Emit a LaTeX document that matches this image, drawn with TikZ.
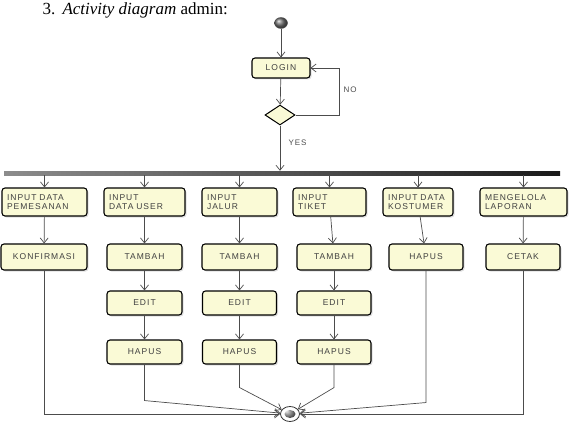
\documentclass[tikz,border=0pt]{standalone}
\usepackage{fontspec}
\setmainfont{Liberation Serif}
\newfontfamily\boxfont[LetterSpace=12]{Liberation Sans}
\usepackage{tikz}
\usetikzlibrary{shapes.geometric}
\usetikzlibrary{arrows.meta, shadows}
\definecolor{boxyellow}{RGB}{250,250,214}

\begin{document}
\begin{tikzpicture}[x=1pt, y=-1pt,
	box/.style={draw, line width=1.1pt, rounded corners=3pt, fill=boxyellow, text=black!75,
		font=\boxfont\fontsize{8.5}{9.5}\selectfont, inner sep=0pt, minimum height=24pt,
		drop shadow={opacity=0.25, shadow xshift=1.5pt, shadow yshift=-1.5pt}},
	lbox/.style={box, align=left, minimum height=28pt, inner xsep=5pt, text width=#1},
	dec/.style={diamond, draw, line width=1pt, fill=boxyellow, inner sep=0pt, minimum width=30pt, minimum height=20pt},
	start/.style={ellipse, draw=black!70, ball color=black!55, inner sep=0pt, minimum width=13pt, minimum height=11pt},
	endn/.style={ellipse, draw=black!80, line width=0.8pt, fill=white, inner sep=0pt, minimum width=19pt, minimum height=15pt,
		path picture={\fill[ball color=black!55] (path picture bounding box.center) ellipse (5.5pt and 4pt);}},
	bar/.style={rectangle, inner sep=0pt, minimum width=556pt, minimum height=4pt, left color=black!45, right color=black!90},
	arr/.style={-{Straight Barb[length=5pt,width=8pt]}, draw=black!70, line width=0.7pt},
	lbl/.style={font=\boxfont\fontsize{8}{9}\selectfont, text=black!70}]
	\useasboundingbox (0,0) rectangle (572,422);
	\node[anchor=base west, font=\fontsize{17}{20}\selectfont] (num) at (39,15) {3.};
	\node[anchor=base west, font=\fontsize{17}{20}\selectfont] (title) at (59,15) {\textit{Activity diagram} admin:};
	\node[start] (start) at (281,23) {};
	\node[box, minimum width=58pt, minimum height=20pt] (login) at (281,68) {LOGIN};
	\node[dec] (dec) at (280,115) {};
	\coordinate (noc) at (339,68);
	\node[lbl] at (350,90) {NO};
	\node[lbl, anchor=west] at (285,143) {YES};
	\node[bar] (bar) at (282,173) {};
	\node[lbox=75pt] (a1) at (44.5,202) {INPUT DATA\\PEMESANAN};
	\node[lbox=71pt] (a2) at (144.5,202) {INPUT\\DATA USER};
	\node[lbox=65pt] (a3) at (239.5,202) {INPUT\\JALUR};
	\node[lbox=63pt] (a4) at (329.5,202) {INPUT\\TIKET};
	\node[lbox=60pt] (a5) at (418,202) {INPUT DATA\\KOSTUMER};
	\node[lbox=77pt] (a6) at (523.5,202) {MENGELOLA\\LAPORAN};
	\node[box, minimum width=86pt, minimum height=26pt] (b1) at (44,257) {KONFIRMASI};
	\node[box, minimum width=75pt, minimum height=26pt] (b2) at (144.5,257) {TAMBAH};
	\node[box, minimum width=75pt, minimum height=26pt] (b3) at (239.5,257) {TAMBAH};
	\node[box, minimum width=74pt, minimum height=26pt] (b4) at (334,257) {TAMBAH};
	\node[box, minimum width=74pt, minimum height=26pt] (b5) at (426,257) {HAPUS};
	\node[box, minimum width=74pt, minimum height=26pt] (b6) at (523,257) {CETAK};
	\node[box, minimum width=75pt] (c2) at (144.5,303) {EDIT};
	\node[box, minimum width=74pt] (c3) at (239.5,303) {EDIT};
	\node[box, minimum width=74pt] (c4) at (334,303) {EDIT};
	\node[box, minimum width=75pt] (d2) at (144.5,352) {HAPUS};
	\node[box, minimum width=74pt] (d3) at (239.5,352) {HAPUS};
	\node[box, minimum width=74pt] (d4) at (334,352) {HAPUS};
	\node[endn] (end) at (290,414) {};
	\draw[arr] (start) to (login);
	\draw[arr] (login) to (dec);
	\draw[arr] (dec.east) -| (noc) to (login.east);
	\draw[arr] (dec) to (dec |- bar.north);
	\draw[arr] (a1 |- bar.south) to (a1);
	\draw[arr] (a2 |- bar.south) to (a2);
	\draw[arr] (a3 |- bar.south) to (a3);
	\draw[arr] (a4 |- bar.south) to (a4);
	\draw[arr] (a5 |- bar.south) to (a5);
	\draw[arr] (a6 |- bar.south) to (a6);
	\draw[arr] (a1) to (b1);
	\draw[arr] (a2) to (b2);
	\draw[arr] (a3) to (b3);
	\draw[arr] (a4) to (b4);
	\draw[arr] (a5) to (b5);
	\draw[arr] (a6) to (b6);
	\draw[arr] (b2) to (c2);
	\draw[arr] (b3) to (c3);
	\draw[arr] (b4) to (c4);
	\draw[arr] (c2) to (d2);
	\draw[arr] (c3) to (d3);
	\draw[arr] (c4) to (d4);
	\draw[arr] (b1) |- (end);
	\draw[arr] (d2.south) -- ++(0,36) -- (end);
	\draw[arr] (d3.south) -- ++(0,23) -- (end);
	\draw[arr] (d4.south) -- ++(0,23) -- (end);
	\draw[arr] (b5.south) -- ++(0,132) -- (end);
	\draw[arr] (b6) |- (end);
\end{tikzpicture}
\end{document}
